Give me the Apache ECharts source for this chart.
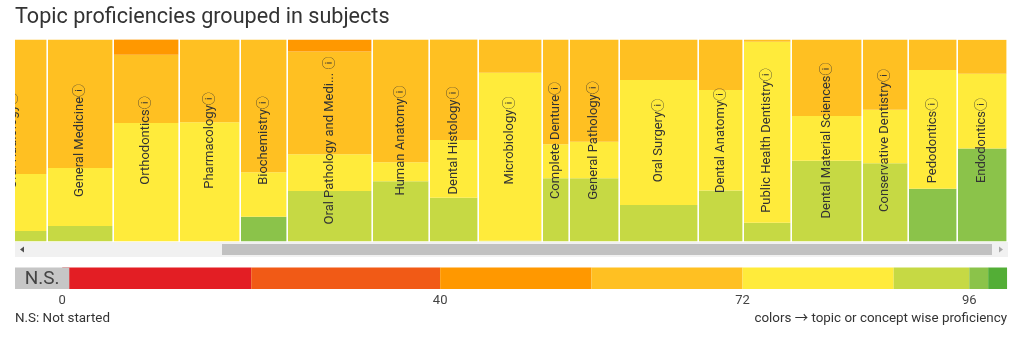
<!DOCTYPE html>
<html>
<head>
<meta charset="utf-8">
<title>Topic proficiencies grouped in subjects</title>
<script src="https://cdn.jsdelivr.net/npm/echarts@6/dist/echarts.min.js"></script>
<style>
  html, body { margin: 0; padding: 0; background: #fff; }
  #chart { width: 1024px; height: 337px; }
</style>
</head>
<body>
<div id="chart"></div>
<script>
// Subjects in display order (the view is scrolled to the right end)
const subjects = [
  'Oral Radiology', 'General Medicine', 'Orthodontics', 'Pharmacology', 'Biochemistry',
  'Oral Pathology and Medicine', 'Human Anatomy', 'Dental Histology', 'Microbiology',
  'Complete Denture', 'General Pathology', 'Oral Surgery', 'Dental Anatomy',
  'Public Health Dentistry', 'Dental Material Sciences', 'Conservative Dentistry',
  'Pedodontics', 'Endodontics'
];
// Relative column width of each subject (topic weight)
const topicWeight = [68, 66, 66, 61, 47, 85, 57, 49, 64, 27, 50, 79, 45, 48, 71, 46, 49, 50];

// Share (%) of topics in each proficiency band, per subject
const shareLightGreen = [0, 0, 0, 0, 12.3, 0, 0, 0, 0, 0, 0, 0, 0, 0, 0, 0, 26.1, 46.1];
const shareLime       = [5.2, 7.7, 0, 0, 0, 25, 29.8, 21.7, 0.4, 31.3, 31.3, 18.1, 25.3, 9.3, 40, 38.7, 0, 0];
const shareYellow     = [28.2, 28.7, 58.7, 59, 22, 18.2, 9.4, 28.6, 83.2, 16.8, 18.1, 61.9, 49.7, 89.6, 22.1, 26.5, 58.8, 36.9];
const shareAmber      = [66.6, 63.6, 33.7, 41, 65.7, 50.8, 60.8, 49.8, 16.4, 51.9, 50.6, 20, 25, 1.1, 37.9, 34.8, 15.1, 16.9];
const shareOrange     = [0, 0, 7.7, 0, 0, 6, 0, 0, 0, 0, 0, 0, 0, 0, 0, 0, 0, 0];

// Colour scale legend: band limits, colours and labelled ticks
const scaleStops  = [0, 20, 40, 56, 72, 88, 96, 98, 100];
const scaleColors = ['#e31e24', '#f15a16', '#ff9800', '#ffc022', '#ffeb3b', '#c6d944', '#8bc34a', '#53ae36'];
const scaleTicks  = [0, 40, 72, 96];

const COLORS = {
  lightGreen: '#8bc34a', lime: '#c6d944', yellow: '#ffeb3b', amber: '#ffc022', orange: '#ff9800'
};
const FONT = 'Roboto, "Noto Sans", "Noto Sans CJK SC", sans-serif';

// Stack order from bottom to top
const bands = [
  { name: 'lightGreen', values: shareLightGreen },
  { name: 'lime', values: shareLime },
  { name: 'yellow', values: shareYellow },
  { name: 'amber', values: shareAmber },
  { name: 'orange', values: shareOrange }
];

// Cumulative column extents along the x axis
const colStart = [];
let acc = 0;
topicWeight.forEach(w => { colStart.push(acc); acc += w; });
const totalWeight = acc;
const viewStart = 35;            // scrolled offset of the visible window
const viewEnd = totalWeight;

const GAP = 1.6;

const baseline = subjects.map(() => 0);
const bandSeries = bands.map(band => {
  const data = [];
  band.values.forEach((v, i) => {
    if (v > 0) {
      const x0 = colStart[i], x1 = colStart[i] + topicWeight[i];
      data.push([x0, x1, baseline[i], baseline[i] + v]);
      baseline[i] += v;
    }
  });
  return {
    type: 'custom',
    name: band.name,
    xAxisIndex: 0, yAxisIndex: 0,
    clip: true,
    encode: { x: [0, 1], y: [2, 3] },
    data: data,
    renderItem: function (params, api) {
      const tl = api.coord([api.value(0), api.value(3)]);
      const br = api.coord([api.value(1), api.value(2)]);
      return {
        type: 'rect',
        shape: { x: tl[0], y: tl[1], width: br[0] - tl[0] - GAP, height: br[1] - tl[1] },
        style: { fill: COLORS[band.name] }
      };
    }
  };
});

// Subject names written vertically in each column; long names are shortened
function subjectLabel(name) {
  if (name.length > 25) return name.slice(0, 23) + '... \u24D8';
  return name + '\u24D8';
}
const labelSeries = {
  type: 'custom',
  name: 'subjects',
  xAxisIndex: 0, yAxisIndex: 0,
  clip: true,
  z: 5,
  encode: { x: [0, 1] },
  data: subjects.map((s, i) => [colStart[i], colStart[i] + topicWeight[i], 0, 100, s]),
  renderItem: function (params, api) {
    const a = api.coord([api.value(0), 100]);
    const b = api.coord([api.value(1), 0]);
    const name = subjects[params.dataIndex];
    return {
      type: 'text',
      x: (a[0] + b[0] - GAP) / 2,
      y: (a[1] + b[1]) / 2,
      rotation: Math.PI / 2,
      style: {
        text: subjectLabel(name),
        x: 0, y: 0,
        align: 'center', verticalAlign: 'middle',
        fill: '#333',
        font: '13px ' + FONT
      }
    };
  }
};

// Legend colour scale bands
const scaleSeries = {
  type: 'custom',
  name: 'scale',
  xAxisIndex: 1, yAxisIndex: 1,
  encode: { x: [0, 1] },
  data: scaleColors.map((c, i) => [scaleStops[i], scaleStops[i + 1]]),
  renderItem: function (params, api) {
    const a = api.coord([api.value(0), 1]);
    const b = api.coord([api.value(1), 0]);
    return {
      type: 'rect',
      shape: { x: a[0], y: a[1], width: b[0] - a[0], height: b[1] - a[1] },
      style: { fill: scaleColors[params.dataIndex] }
    };
  }
};
// "Not started" key sitting left of zero
const nsSeries = {
  type: 'custom',
  name: 'N.S.',
  xAxisIndex: 1, yAxisIndex: 1,
  z: 3,
  data: [[0]],
  renderItem: function (params, api) {
    const a = api.coord([-5, 1]);
    const b = api.coord([0.75, 0]);
    return {
      type: 'group',
      children: [
        { type: 'rect', shape: { x: a[0], y: a[1], width: b[0] - a[0], height: b[1] - a[1] },
          style: { fill: '#c6c6c6' } },
        { type: 'text', style: { text: 'N.S.', x: (a[0] + b[0]) / 2, y: (a[1] + b[1]) / 2 + 0.5,
          align: 'center', verticalAlign: 'middle', fill: '#444', font: '19px ' + FONT } }
      ]
    };
  }
};

const chart = echarts.init(document.getElementById('chart'), null, { renderer: 'canvas' });
chart.setOption({
  animation: false,
  backgroundColor: '#ffffff',
  grid: [
    { left: 15, right: 16, top: 39.5, height: 202, outerBoundsMode: 'none', containLabel: false },
    { left: 15, right: 16, top: 267.5, height: 21.5, outerBoundsMode: 'none', containLabel: false }
  ],
  xAxis: [
    { type: 'value', gridIndex: 0, min: viewStart, max: viewEnd, show: false },
    {
      type: 'value', gridIndex: 1, min: -5, max: 100.1,
      splitLine: { show: false }, axisLine: { show: false }, axisTick: { show: false },
      axisLabel: {
        customValues: scaleTicks, showMinLabel: true, showMaxLabel: true,
        color: '#444', fontSize: 13, fontFamily: FONT, margin: 5
      }
    }
  ],
  yAxis: [
    { type: 'value', gridIndex: 0, min: 0, max: 100, show: false },
    { type: 'value', gridIndex: 1, min: 0, max: 1, show: false }
  ],
  series: bandSeries.concat([labelSeries, scaleSeries, nsSeries]),
  graphic: [
    { type: 'text', x: 15, y: 18, style: { text: 'Topic proficiencies grouped in subjects',
      font: '21.6px ' + FONT, fill: '#333', verticalAlign: 'middle' } },
    // horizontal scrollbar under the columns
    { type: 'rect', shape: { x: 15, y: 242, width: 993, height: 15 }, style: { fill: '#f1f1f1' } },
    { type: 'rect', shape: { x: 222, y: 244, width: 770, height: 11 }, style: { fill: '#c1c1c1' } },
    { type: 'polygon', shape: { points: [[20, 249.5], [24, 246.5], [24, 252.5]] }, style: { fill: '#505050' } },
    { type: 'polygon', shape: { points: [[1003, 249.5], [999, 246.5], [999, 252.5]] }, style: { fill: '#a8a8a8' } },
    { type: 'text', x: 15, y: 318.5, style: { text: 'N.S: Not started', font: '13.4px ' + FONT,
      fill: '#333', verticalAlign: 'middle' } },
    { type: 'text', x: 1007, y: 318.5, style: { text: 'colors \u2192 topic or concept wise proficiency',
      font: '13.4px ' + FONT, fill: '#333', align: 'right', verticalAlign: 'middle' } }
  ]
});
</script>
</body>
</html>
